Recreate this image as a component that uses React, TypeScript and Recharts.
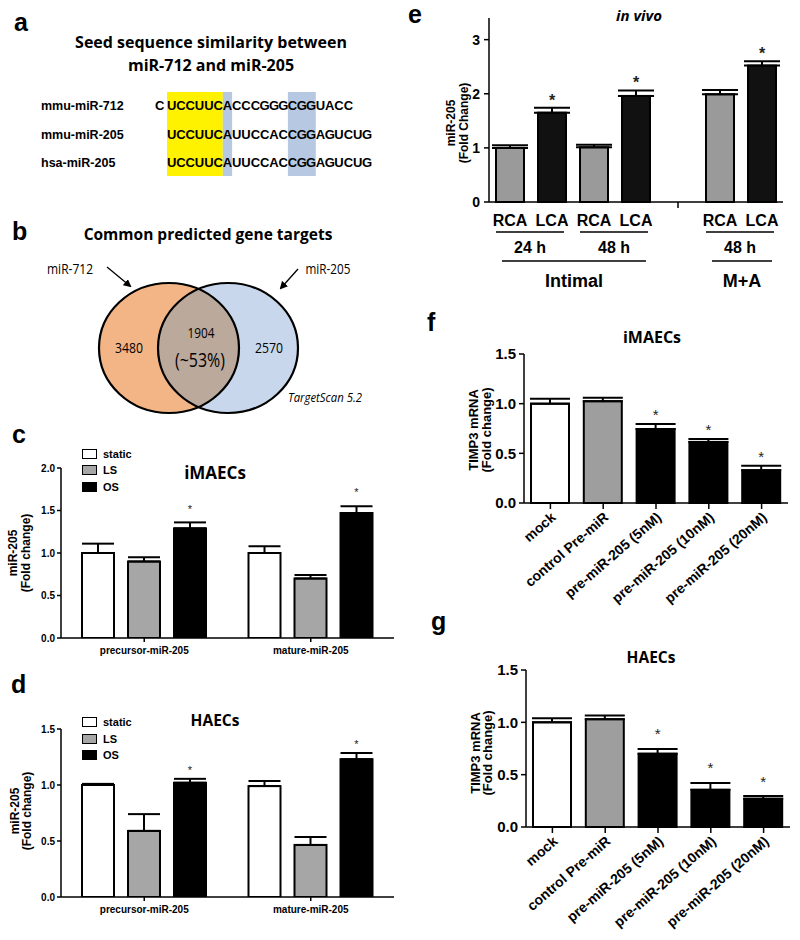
import React from 'react';
import { BarChart, Bar, XAxis, YAxis, ErrorBar, Cell, Legend } from 'recharts';

const ARIAL = '"Liberation Sans", Arial, Helvetica, sans-serif';
const SANS = '"Open Sans", "Noto Sans", sans-serif';

// a: seed alignment
const seqNames = ['mmu-miR-712', 'mmu-miR-205', 'hsa-miR-205'];
const seqLead = ['C', '', ''];
const seqBodies = ['UCCUUCACCCGGGCGGUACC', 'UCCUUCAUUCCACCGGAGUCUG', 'UCCUUCAUUCCACCGGAGUCUG'];
const seedSpan = [0, 6];
const matchSpans = [[6, 7], [13, 16]];

// b: shared targets
const vennNames = ['miR-712', 'miR-205'];
const vennCounts = ['3480', '1904', '2570'];
const vennShare = '(~53%)';
const vennSource = 'TargetScan 5.2';

// c, d: flow conditions
const mirForms = ['precursor-miR-205', 'mature-miR-205'];
const flowConds = ['static', 'LS', 'OS'];
const flowFills = ['#ffffff', '#a6a6a6', '#000000'];

const cStatic = [1.0, 1.0];
const cStaticErr = [0.11, 0.08];
const cLS = [0.9, 0.7];
const cLSErr = [0.05, 0.04];
const cOS = [1.29, 1.47];
const cOSErr = [0.07, 0.08];
const cOSSig = [true, true];

const dStatic = [1.0, 0.99];
const dStaticErr = [0.01, 0.045];
const dLS = [0.59, 0.465];
const dLSErr = [0.15, 0.07];
const dOS = [1.02, 1.23];
const dOSErr = [0.035, 0.055];
const dOSSig = [true, true];

// e: in vivo
const eVessels = ['RCA', 'LCA', 'RCA', 'LCA', '', 'RCA', 'LCA'];
const eMean = [1.0, 1.65, 1.01, 1.96, null, 1.99, 2.52];
const eErr = [0.05, 0.09, 0.05, 0.1, 0, 0.08, 0.08];
const eSig = [false, true, false, true, false, false, true];
const eFills = ['#9a9a9a', '#111111', '#9a9a9a', '#111111', '#ffffff', '#9a9a9a', '#111111'];
const eTimes = [
  { label: '24 h', from: 0, to: 1 },
  { label: '48 h', from: 2, to: 3 },
  { label: '48 h', from: 5, to: 6 },
];
const eLayers = [
  { label: 'Intimal', from: 0, to: 3 },
  { label: 'M+A', from: 5, to: 6 },
];

// f, g: TIMP3
const timpCats = ['mock', 'control Pre-miR', 'pre-miR-205 (5nM)', 'pre-miR-205 (10nM)', 'pre-miR-205 (20nM)'];
const timpFills = ['#ffffff', '#9e9e9e', '#000000', '#000000', '#000000'];
const fMean = [1.0, 1.025, 0.745, 0.615, 0.33];
const fErr = [0.05, 0.035, 0.05, 0.03, 0.045];
const fSig = [false, false, true, true, true];
const gMean = [1.0, 1.03, 0.7, 0.355, 0.27];
const gErr = [0.04, 0.035, 0.045, 0.065, 0.025];
const gSig = [false, false, true, true, true];

const flowRows = (s: number[], se: number[], l: number[], le: number[], o: number[], oe: number[], sig: boolean[]) =>
  mirForms.map((name, i) => ({
    name,
    static: s[i], staticErr: [0, se[i]], staticSig: false,
    LS: l[i], LSErr: [0, le[i]], LSSig: false,
    OS: o[i], OSErr: [0, oe[i]], OSSig: sig[i],
  }));

const cData = flowRows(cStatic, cStaticErr, cLS, cLSErr, cOS, cOSErr, cOSSig);
const dData = flowRows(dStatic, dStaticErr, dLS, dLSErr, dOS, dOSErr, dOSSig);
const eData = eVessels.map((v, i) => ({ key: String(i), v: eMean[i], vErr: [0, eErr[i]], vSig: eSig[i] }));
const fData = timpCats.map((name, i) => ({ name, v: fMean[i], vErr: [0, fErr[i]], vSig: fSig[i] }));
const gData = timpCats.map((name, i) => ({ name, v: gMean[i], vErr: [0, gErr[i]], vSig: gSig[i] }));

// bar with black border, star drawn above its error bar
const starBar = (key: string, gap: number, fs: number, bold: boolean) => (p: any) => {
  const { x, y, width, height, fill, payload } = p;
  const v = payload[key];
  if (v == null || !height) return <g />;
  const e = payload[key + 'Err'] ? payload[key + 'Err'][1] : 0;
  const top = y - (e * height) / v;
  return (
    <g>
      <rect x={x} y={y} width={width} height={height} fill={fill} stroke="#000" strokeWidth={2} />
      {payload[key + 'Sig'] && (
        <text x={x + width / 2} y={top - gap + fs * 0.56} textAnchor="middle" fontSize={fs}
          fontWeight={bold ? 'bold' : 'normal'} fontFamily={ARIAL} fill="#222">*</text>
      )}
    </g>
  );
};

const axisLine = { stroke: '#000', strokeWidth: 1.5 };

function FlowLegend() {
  return (
    <div style={{ fontFamily: ARIAL, fontWeight: 'bold', fontSize: 11, color: '#000' }}>
      {flowConds.map((c, i) => (
        <div key={c} style={{ display: 'flex', alignItems: 'center', height: 16.5 }}>
          <span style={{ display: 'inline-block', width: 15, height: 10, boxSizing: 'border-box',
            border: '1.5px solid #000', background: flowFills[i], marginRight: 6 }} />
          {c}
        </div>
      ))}
    </div>
  );
}

function FlowChart({ data, top, marginTop, plotH, domain, ticks, legendTop, gap }: any) {
  return (
    <div style={{ position: 'absolute', left: 0, top }}>
      <BarChart width={396} height={marginTop + plotH + 25} data={data} barGap={14}
        margin={{ top: marginTop, right: 2, left: 0, bottom: 0 }}>
        <XAxis dataKey="name" height={25} axisLine={axisLine} tickLine={axisLine} tickSize={4} tickMargin={5}
          tick={{ fontSize: 10, fontWeight: 'bold', fill: '#000', fontFamily: ARIAL }} />
        <YAxis width={61} domain={domain} ticks={ticks} allowDataOverflow axisLine={axisLine} tickLine={axisLine}
          tickSize={4} tickMargin={2} tickFormatter={(v: number) => v.toFixed(1)}
          tick={{ fontSize: 10, fontWeight: 'bold', fill: '#000', fontFamily: ARIAL }} />
        <Legend layout="vertical" align="center" verticalAlign="middle" content={() => <FlowLegend />}
          wrapperStyle={{ left: 82, top: legendTop, width: 'auto', height: 'auto' }} />
        {flowConds.map((c, i) => (
          <Bar key={c} dataKey={c} name={c} fill={flowFills[i]} barSize={32} isAnimationActive={false}
            shape={starBar(c, gap, 11, false)}>
            <ErrorBar dataKey={c + 'Err'} width={16} stroke="#000" strokeWidth={2} direction="y" />
          </Bar>
        ))}
      </BarChart>
    </div>
  );
}

const eSlot = 42;
function VesselTick(props: any) {
  const { x, y, index } = props;
  const name = eVessels[index];
  const out: React.ReactNode[] = [];
  if (!name) {
    out.push(<line key="t" x1={x} x2={x} y1={y} y2={y + 6} stroke="#000" strokeWidth={1.5} />);
  } else {
    out.push(<text key="n" x={x} y={y + 24} textAnchor="middle" fontSize={16} fontWeight="bold" fontFamily={ARIAL} fill="#000">{name}</text>);
  }
  eTimes.filter((g) => g.to === index).forEach((g, k) => {
    const x0 = x - (g.to - g.from) * eSlot - 14;
    const x1 = x + 12;
    out.push(<line key={'gl' + k} x1={x0} x2={x1} y1={y + 30} y2={y + 30} stroke="#000" strokeWidth={1.5} />);
    out.push(<text key={'gt' + k} x={(x0 + x1) / 2} y={y + 51} textAnchor="middle" fontSize={16} fontWeight="bold" fontFamily={ARIAL} fill="#000">{g.label}</text>);
  });
  eLayers.filter((g) => g.to === index).forEach((g, k) => {
    const x0 = x - (g.to - g.from) * eSlot - 8;
    const x1 = x + 10;
    out.push(<line key={'ll' + k} x1={x0} x2={x1} y1={y + 59} y2={y + 59} stroke="#000" strokeWidth={1.5} />);
    out.push(<text key={'lt' + k} x={(x0 + x1) / 2} y={y + 85} textAnchor="middle" fontSize={18} fontWeight="bold" fontFamily={ARIAL} fill="#000">{g.label}</text>);
  });
  return <g>{out}</g>;
}

function TreatTick(props: any) {
  const { x, y, payload } = props;
  const tx = x + 3;
  return (
    <text x={tx} y={y} transform={`rotate(-41 ${tx} ${y})`} textAnchor="end" dy="0.35em" fontSize={14}
      fontWeight="bold" fontFamily={ARIAL} fill="#000">{payload.value}</text>
  );
}

function TimpChart({ data, left, top, marginTop, yWidth, plotH, gap }: any) {
  return (
    <div style={{ position: 'absolute', left, top }}>
      <BarChart width={yWidth + 264 + 4} height={marginTop + plotH + 110} data={data}
        margin={{ top: marginTop, right: 4, left: 0, bottom: 0 }}>
        <XAxis dataKey="name" height={110} interval={0} axisLine={axisLine} tickLine={axisLine} tickSize={6}
          tickMargin={6} tick={<TreatTick />} />
        <YAxis width={yWidth} domain={[0, 1.5]} ticks={[0, 0.5, 1, 1.5]} axisLine={axisLine} tickLine={axisLine}
          tickSize={5} tickMargin={3} tickFormatter={(v: number) => v.toFixed(1)}
          tick={{ fontSize: 15, fontWeight: 'bold', fill: '#000', fontFamily: ARIAL }} />
        <Bar dataKey="v" barSize={38} isAnimationActive={false} shape={starBar('v', gap, 15, false)}>
          {data.map((_: any, i: number) => <Cell key={i} fill={timpFills[i]} />)}
          <ErrorBar dataKey="vErr" width={20} stroke="#000" strokeWidth={2} direction="y" />
        </Bar>
      </BarChart>
    </div>
  );
}

function YLabel({ x1, x2, y, l1, l2, fs }: any) {
  return (
    <g fontFamily={ARIAL} fontWeight="bold" fontSize={fs} fill="#000">
      <text transform={`translate(${x1 + fs * 0.36},${y}) rotate(-90)`} textAnchor="middle">{l1}</text>
      <text transform={`translate(${x2 + fs * 0.36},${y}) rotate(-90)`} textAnchor="middle">{l2}</text>
    </g>
  );
}

function Annotations() {
  const pitch = 9.3;
  const seqX = 167;
  const rowY = [110, 139, 167];
  return (
    <svg width={800} height={940} style={{ position: 'absolute', left: 0, top: 0 }}>
      {/* panel letters */}
      <g fontFamily={ARIAL} fontWeight="bold" fontSize={25} fill="#000">
        <text x={14} y={31}>a</text>
        <text x={12} y={240}>b</text>
        <text x={12} y={443}>c</text>
        <text x={11} y={693}>d</text>
        <text x={408} y={23}>e</text>
        <text x={427} y={331}>f</text>
        <text x={431} y={630}>g</text>
      </g>

      {/* a */}
      <g fontFamily={SANS} fontWeight="bold" fontSize={16} fill="#000" textAnchor="middle">
        <text x={211} y={48}>Seed sequence similarity between</text>
        <text x={211} y={71}>miR-712 and miR-205</text>
      </g>
      <rect x={seqX + seedSpan[0] * pitch} y={92} width={(seedSpan[1] - seedSpan[0]) * pitch} height={84} fill="#fff200" />
      {matchSpans.map(([a, b], i) => (
        <rect key={i} x={seqX + a * pitch} y={92} width={(b - a) * pitch} height={84} fill="#b7c9e2" />
      ))}
      <g fontFamily={ARIAL} fontWeight="bold" fill="#000">
        {seqNames.map((n, r) => (
          <g key={n}>
            <text x={41} y={rowY[r]} fontSize={12.5}>{n}</text>
            {seqLead[r] && <text x={155} y={rowY[r]} fontSize={13}>{seqLead[r]}</text>}
            {seqBodies[r].split('').map((ch, i) => (
              <text key={i} x={seqX + (i + 0.5) * pitch} y={rowY[r]} fontSize={13} textAnchor="middle">{ch}</text>
            ))}
          </g>
        ))}
      </g>

      {/* b */}
      <text x={208} y={240} textAnchor="middle" fontFamily={SANS} fontWeight="bold" fontSize={15.5} fill="#000">Common predicted gene targets</text>
      <defs>
        <clipPath id="leftSet"><ellipse cx={169} cy={348} rx={70} ry={65} /></clipPath>
        <marker id="arr" markerWidth={8} markerHeight={8} refX={6} refY={4} orient="auto" markerUnits="userSpaceOnUse">
          <path d="M0,0 L8,4 L0,8 z" fill="#000" />
        </marker>
      </defs>
      <ellipse cx={169} cy={348} rx={70} ry={65} fill="#f3b586" />
      <ellipse cx={228} cy={348} rx={70} ry={65} fill="#c8d7eb" />
      <ellipse cx={228} cy={348} rx={70} ry={65} fill="#bba99c" clipPath="url(#leftSet)" />
      <ellipse cx={169} cy={348} rx={70} ry={65} fill="none" stroke="#000" strokeWidth={2.2} />
      <ellipse cx={228} cy={348} rx={70} ry={65} fill="none" stroke="#000" strokeWidth={2.2} />
      <line x1={107} y1={267} x2={130} y2={286} stroke="#000" strokeWidth={1.3} markerEnd="url(#arr)" />
      <line x1={298} y1={269} x2={281} y2={288} stroke="#000" strokeWidth={1.3} markerEnd="url(#arr)" />
      <g fontFamily={SANS} fill="#000" textAnchor="middle">
        <text x={70} y={274} fontSize={15} textLength={46} lengthAdjust="spacingAndGlyphs">{vennNames[0]}</text>
        <text x={328} y={274} fontSize={15} textLength={45} lengthAdjust="spacingAndGlyphs">{vennNames[1]}</text>
        <text x={129} y={353} fontSize={15} textLength={28} lengthAdjust="spacingAndGlyphs">{vennCounts[0]}</text>
        <text x={201} y={338} fontSize={15} textLength={27} lengthAdjust="spacingAndGlyphs">{vennCounts[1]}</text>
        <text x={200} y={367} fontSize={20} textLength={50} lengthAdjust="spacingAndGlyphs">{vennShare}</text>
        <text x={269} y={353} fontSize={15} textLength={28} lengthAdjust="spacingAndGlyphs">{vennCounts[2]}</text>
        <text x={325} y={402} fontSize={13} fontStyle="italic" textLength={74} lengthAdjust="spacingAndGlyphs">{vennSource}</text>
      </g>

      {/* chart titles */}
      <g fontFamily={SANS} fontWeight="bold" fill="#000" textAnchor="middle">
        <text x={215} y={479} fontSize={17}>iMAECs</text>
        <text x={215} y={726} fontSize={15.5}>HAECs</text>
        <text x={639} y={21} fontSize={15} fontStyle="italic">in vivo</text>
        <text x={652} y={343} fontSize={16}>iMAECs</text>
        <text x={651} y={663} fontSize={15.5}>HAECs</text>
      </g>

      {/* y axis titles */}
      <YLabel x1={13} x2={26} y={553} l1="miR-205" l2="(Fold change)" fs={12} />
      <YLabel x1={15} x2={27} y={811} l1="miR-205" l2="(Fold change)" fs={12} />
      <YLabel x1={451} x2={464} y={123} l1="miR-205" l2="(Fold Change)" fs={12} />
      <YLabel x1={473} x2={486} y={430} l1="TIMP3 mRNA" l2="(Fold change)" fs={13} />
      <YLabel x1={475} x2={487} y={753} l1="TIMP3 mRNA" l2="(Fold change)" fs={13} />
    </svg>
  );
}

export default function App() {
  return (
    <div style={{ position: 'absolute', left: 0, top: 0, width: 800, height: 940, background: '#fff', overflow: 'hidden' }}>
      <Annotations />
      <FlowChart data={cData} top={440} marginTop={28} plotH={170} domain={[0, 2]} ticks={[0, 0.5, 1, 1.5, 2]} legendTop={5.5} gap={16} />
      <FlowChart data={dData} top={700} marginTop={29} plotH={168} domain={[0, 1.5]} ticks={[0, 0.5, 1, 1.5]} legendTop={14} gap={11} />

      <div style={{ position: 'absolute', left: 400, top: 0 }}>
        <BarChart width={388} height={18 + 184 + 95} data={eData} margin={{ top: 18, right: 5, left: 0, bottom: 0 }}>
          <XAxis dataKey="key" height={95} interval={0} axisLine={axisLine} tickLine={false} tickSize={0} tickMargin={0}
            tick={<VesselTick />} />
          <YAxis width={89} domain={[0, 3.4]} ticks={[0, 1, 2, 3]} axisLine={axisLine} tickLine={axisLine}
            tickSize={5} tickMargin={4} tick={{ fontSize: 14, fontWeight: 'bold', fill: '#000', fontFamily: ARIAL }} />
          <Bar dataKey="v" barSize={28} isAnimationActive={false} shape={starBar('v', 11, 16, true)}>
            {eData.map((_, i) => <Cell key={i} fill={eFills[i]} />)}
            <ErrorBar dataKey="vErr" width={18} stroke="#000" strokeWidth={2} direction="y" />
          </Bar>
        </BarChart>
      </div>

      <TimpChart data={fData} left={400} top={330} marginTop={24} yWidth={124} plotH={149} gap={12} />
      <TimpChart data={gData} left={400} top={640} marginTop={30} yWidth={126} plotH={157} gap={18} />
    </div>
  );
}
